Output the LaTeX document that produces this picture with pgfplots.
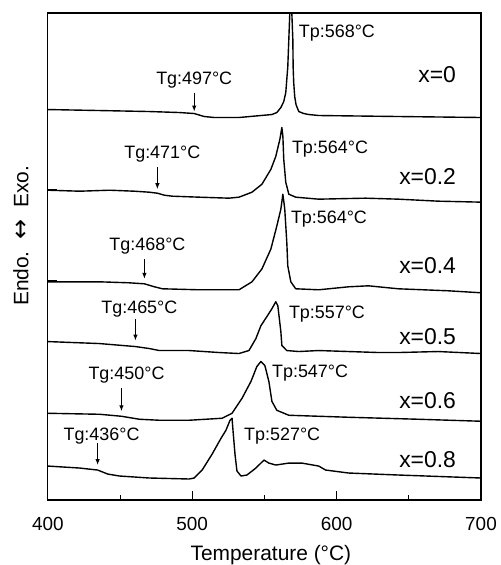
\documentclass[border=0pt]{standalone}
\usepackage{fontspec}
\setmainfont{Liberation Sans}
\newfontfamily\dejavu{DejaVu Sans}
\usepackage{pgfplots}
\pgfplotsset{compat=1.18}
\usetikzlibrary{arrows.meta}

% DSC traces, y in px above the bottom axis line
\pgfplotstableread{
T y
400.0 392
435.9 391
470.3 390
491.0 389
501.4 388
508.3 385
515.2 384
532.4 384
555.2 387
558.6 389
561.4 394
563.4 400
564.8 409
565.5 422
566.2 435
566.9 462
567.6 489
568.2 560
569.0 489
569.7 462
569.9 435
570.3 419
571.0 405
571.9 397
573.8 390
577.2 388
580.7 387
587.6 386
642.8 385
700.0 384
}\xa
\pgfplotstableread{
T y
400.0 311
422.1 310
442.8 311
460.0 310
470.3 309
475.9 308
480.7 306
486.2 305
504.8 304
525.5 303
532.4 304
541.4 309
548.3 317
554.5 332
557.9 345
560.7 362
562.1 374
562.8 365
563.4 342
564.8 319
566.9 307
571.7 304
587.6 302
620.0 303
642.8 302
670.3 300
700.0 299
}\xb
\pgfplotstableread{
T y
400.0 219
435.9 219
456.6 218
466.9 217
473.8 214
479.3 212
504.8 211
532.4 211
541.4 219
548.3 232
554.5 252
558.6 275
561.4 292
562.8 307
564.1 292
565.5 259
566.2 235
568.3 219
571.7 212
587.6 211
608.3 214
622.1 215
642.8 212
677.2 210
700.0 208
}\xc
\pgfplotstableread{
T y
400.0 159
435.9 157
460.7 154
470.3 152
477.2 150
497.9 150
518.6 148
532.4 147
539.3 150
544.1 162
547.6 175
551.7 184
555.2 192
557.9 199
559.3 195
561.4 169
562.1 155
565.5 150
573.8 149
587.6 150
608.3 149
629.0 148
642.8 148
670.3 149
700.0 147
}\xd
\pgfplotstableread{
T y
400.0 87
435.9 86
451.0 84
463.4 81
477.2 80
497.9 80
520.7 82
527.6 87
534.5 102
540.7 119
544.8 134
547.6 139
550.3 135
553.1 119
555.2 99
558.6 90
566.9 85
587.6 84
608.3 83
656.6 81
700.0 79
}\xe
\pgfplotstableread{
T y
400.0 34
422.1 32
434.5 30
441.4 26
449.7 24
470.3 22
497.9 21
501.4 22
506.9 30
513.8 46
520.0 62
523.4 70
526.2 80
527.6 82
528.3 69
529.7 45
531.0 29
533.8 24
537.9 25
544.1 32
549.7 40
553.1 37
557.9 35
566.9 37
575.9 37
587.6 34
592.4 30
608.3 27
642.8 25
700.0 22
}\xf

\begin{document}
\begin{tikzpicture}
\begin{axis}[
  scale only axis, width=435pt, height=489pt,
  xmin=400, xmax=700, ymin=0, ymax=489,
  xtick={400,500,600,700}, minor xtick={450,550,650},
  ytick={220,312}, yticklabels={},
  xtick pos=bottom, ytick pos=left, tick align=inside,
  major tick length=9pt, minor tick length=5pt,
  tick style={black, line width=1pt},
  axis line style={line width=1.3pt},
  xticklabel style={font=\fontsize{19}{19}\selectfont, yshift=-14pt},
  /pgf/number format/assume math mode=true,
  clip mode=individual]
\addplot[black, mark=none, solid, line width=1.4pt, line join=round] table[x=T,y=y] {\xa};
\addplot[black, mark=none, solid, line width=1.4pt, line join=round] table[x=T,y=y] {\xb};
\addplot[black, mark=none, solid, line width=1.4pt, line join=round] table[x=T,y=y] {\xc};
\addplot[black, mark=none, solid, line width=1.4pt, line join=round] table[x=T,y=y] {\xd};
\addplot[black, mark=none, solid, line width=1.4pt, line join=round] table[x=T,y=y] {\xe};
\addplot[black, mark=none, solid, line width=1.4pt, line join=round] table[x=T,y=y] {\xf};

% Tg / Tp labels
\begin{scope}[every node/.style={font=\fontsize{18}{18}\selectfont, inner sep=0pt}]
\node at (axis cs:501.4,422) {Tg:497°C};
\node at (axis cs:479.3,347) {Tg:471°C};
\node at (axis cs:469.0,255) {Tg:468°C};
\node at (axis cs:463.4,192) {Tg:465°C};
\node at (axis cs:454.5,125) {Tg:450°C};
\node at (axis cs:437.2,64) {Tg:436°C};
\node[anchor=west] at (axis cs:573.8,469) {Tp:568°C};
\node[anchor=west] at (axis cs:569.0,352) {Tp:564°C};
\node[anchor=west] at (axis cs:568.3,282) {Tp:564°C};
\node[anchor=west] at (axis cs:566.9,187) {Tp:557°C};
\node[anchor=west] at (axis cs:555.2,127) {Tp:547°C};
\node[anchor=west] at (axis cs:535.9,64) {Tp:527°C};
\end{scope}
\begin{scope}[-{Latex[length=6pt,width=4.5pt]}, line width=1pt]
\draw (axis cs:501.4,409) -- (axis cs:501.4,390);
\draw (axis cs:475.9,334) -- (axis cs:475.9,312);
\draw (axis cs:466.9,242) -- (axis cs:466.9,222);
\draw (axis cs:460.7,182) -- (axis cs:460.7,160);
\draw (axis cs:451.0,112) -- (axis cs:451.0,89);
\draw (axis cs:434.5,57) -- (axis cs:434.5,35);
\end{scope}
\begin{scope}[every node/.style={font=\fontsize{23}{23}\selectfont, inner sep=0pt, anchor=east}]
\node at (axis cs:682.8,427) {x=0};
\node at (axis cs:682.8,325) {x=0.2};
\node at (axis cs:682.8,235) {x=0.4};
\node at (axis cs:682.8,164) {x=0.5};
\node at (axis cs:682.8,100) {x=0.6};
\node at (axis cs:682.8,40) {x=0.8};
\end{scope}

\node[font=\fontsize{21}{21}\selectfont, anchor=base, inner sep=0pt]
  at ([yshift=-61pt]rel axis cs:0.515,0) {Temperature (°C)};
\node[font=\fontsize{21}{21}\selectfont, rotate=90, inner sep=0pt]
  at ([xshift=-27pt]rel axis cs:0,0.542) {Endo.\ \ {\dejavu\fontsize{24}{24}\selectfont ↔}\ \ Exo.};
\end{axis}
\path ([shift={(-48pt,-63pt)}]current axis.south west)
  rectangle ([shift={(18pt,13pt)}]current axis.north east);
\end{tikzpicture}
\end{document}
